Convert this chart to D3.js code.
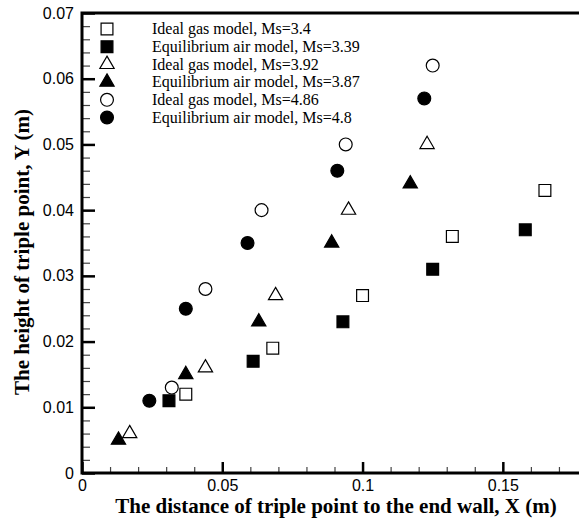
<!DOCTYPE html>
<html lang="en">
	<head>
		<meta charset="utf-8">
		<title>Triple point trajectory</title>
		<script type="text/javascript" src="https://cdn.jsdelivr.net/npm/d3@7"></script>
		<style type="text/css">
			body { margin: 0; background: #fff; }
			svg { display: block; }
			.tick text { font-family: Arial, "Liberation Sans", sans-serif; font-size: 16px; fill: #000; }
		</style>
	</head>
	<body>
		<script type="text/javascript">

			//Width and height
			var w = 579;
			var h = 520;

			// series labels
			var labels = [
				"Ideal gas model, Ms=3.4",
				"Equilibrium air model, Ms=3.39",
				"Ideal gas model, Ms=3.92",
				"Equilibrium air model, Ms=3.87",
				"Ideal gas model, Ms=4.86",
				"Equilibrium air model, Ms=4.8"
			];

			// X (m) and Y (m)
			var ideal34X = [0.037, 0.068, 0.100, 0.132, 0.165];
			var ideal34Y = [0.012, 0.019, 0.027, 0.036, 0.043];

			var equil339X = [0.031, 0.061, 0.093, 0.125, 0.158];
			var equil339Y = [0.011, 0.017, 0.023, 0.031, 0.037];

			var ideal392X = [0.017, 0.044, 0.069, 0.095, 0.123];
			var ideal392Y = [0.006, 0.016, 0.027, 0.040, 0.050];

			var equil387X = [0.013, 0.037, 0.063, 0.089, 0.117];
			var equil387Y = [0.005, 0.015, 0.023, 0.035, 0.044];

			var ideal486X = [0.032, 0.044, 0.064, 0.094, 0.125];
			var ideal486Y = [0.013, 0.028, 0.040, 0.050, 0.062];

			var equil48X = [0.024, 0.037, 0.059, 0.091, 0.122];
			var equil48Y = [0.011, 0.025, 0.035, 0.046, 0.057];

			var xTicks = [0, 0.05, 0.1, 0.15];
			var yTicks = [0, 0.01, 0.02, 0.03, 0.04, 0.05, 0.06, 0.07];

			var seriesX = [ideal34X, equil339X, ideal392X, equil387X, ideal486X, equil48X];
			var seriesY = [ideal34Y, equil339Y, ideal392Y, equil387Y, ideal486Y, equil48Y];
			var symbols = [d3.symbolSquare, d3.symbolSquare, d3.symbolTriangle, d3.symbolTriangle, d3.symbolCircle, d3.symbolCircle];
			var symSize = [140, 140, 88, 88, 130, 130];
			var filled = [false, true, false, true, false, true];

			var dataset = [];
			seriesX.forEach(function(xs, i) {
				xs.forEach(function(x, j) {
					dataset.push({ s: i, x: x, y: seriesY[i][j] });
				});
			});

			var svg = d3.select("body")
						.append("svg")
						.attr("width", w)
						.attr("height", h);

			var xScale = d3.scaleLinear()
				.domain([0, 0.18])
				.range([82, 587]);

			var yScale = d3.scaleLinear()
				.domain([0, 0.07])
				.range([473, 13]);

			// minor ticks
			svg.append("g")
				.attr("transform", "translate(0,473)")
				.call(d3.axisBottom(xScale).tickValues(d3.range(0.01, 0.18, 0.01)).tickSize(-6).tickFormat(""))
				.call(function(g) { g.select(".domain").remove(); })
				.selectAll("line").attr("stroke", "#444").attr("stroke-width", 1.2);

			svg.append("g")
				.attr("transform", "translate(82,0)")
				.call(d3.axisLeft(yScale).tickValues(d3.range(0.002, 0.07, 0.002)).tickSize(-8).tickFormat(""))
				.call(function(g) { g.select(".domain").remove(); })
				.selectAll("line").attr("stroke", "#444").attr("stroke-width", 1.2);

			// major ticks
			var xAxis = d3.axisBottom(xScale)
				.tickValues(xTicks)
				.tickSize(-11)
				.tickPadding(7)
				.tickFormat(d3.format("~g"));

			var yAxis = d3.axisLeft(yScale)
				.tickValues(yTicks)
				.tickSize(-13)
				.tickPadding(8)
				.tickFormat(d3.format("~g"));

			svg.append("g")
				.attr("class", "axis")
				.attr("transform", "translate(0,473)")
				.call(xAxis)
				.call(function(g) { g.select(".domain").remove(); })
				.call(function(g) { g.selectAll("line").attr("stroke-width", 2.5); });

			svg.append("g")
				.attr("class", "axis")
				.attr("transform", "translate(82,0)")
				.call(yAxis)
				.call(function(g) { g.select(".domain").remove(); })
				.call(function(g) { g.selectAll("line").attr("stroke-width", 2.5); });

			// frame
			svg.append("rect")
				.attr("x", xScale(0))
				.attr("y", yScale(0.07))
				.attr("width", xScale(0.18) - xScale(0))
				.attr("height", yScale(0) - yScale(0.07))
				.attr("fill", "none")
				.attr("stroke", "#000")
				.attr("stroke-width", 3);

			// points
			svg.selectAll(".pt")
				.data(dataset)
				.enter()
				.append("path")
				.attr("class", "pt")
				.attr("transform", function(d) {
					return "translate(" + xScale(d.x) + "," + yScale(d.y) + ")";
				})
				.attr("d", function(d) {
					return d3.symbol().type(symbols[d.s]).size(symSize[d.s])();
				})
				.attr("fill", function(d) { return filled[d.s] ? "#000" : "#fff"; })
				.attr("stroke", "#000")
				.attr("stroke-width", 1.2);

			// legend
			var legend = svg.selectAll(".legend")
				.data(labels)
				.enter()
				.append("g")
				.attr("class", "legend")
				.attr("transform", function(d, i) {
					return "translate(107," + (29 + i * 17.7) + ")";
				});

			legend.append("path")
				.attr("d", function(d, i) {
					return d3.symbol().type(symbols[i]).size(symSize[i])();
				})
				.attr("fill", function(d, i) { return filled[i] ? "#000" : "#fff"; })
				.attr("stroke", "#000")
				.attr("stroke-width", 1.2);

			legend.append("text")
				.attr("x", 45)
				.attr("dy", "0.33em")
				.style("font-family", "'Liberation Serif', 'Times New Roman', serif")
				.style("font-size", "16px")
				.text(function(d) { return d; });

			// axis titles
			svg.append("text")
				.attr("x", 336)
				.attr("y", 513)
				.attr("text-anchor", "middle")
				.style("font-family", "'Liberation Serif', 'Times New Roman', serif")
				.style("font-weight", "bold")
				.style("font-size", "21px")
				.text("The distance of triple point to the end wall, X (m)");

			svg.append("text")
				.attr("transform", "translate(29,252) rotate(-90)")
				.attr("text-anchor", "middle")
				.style("font-family", "'Liberation Serif', 'Times New Roman', serif")
				.style("font-weight", "bold")
				.style("font-size", "21px")
				.text("The height of triple point, Y (m)");

		</script>
	</body>
</html>
